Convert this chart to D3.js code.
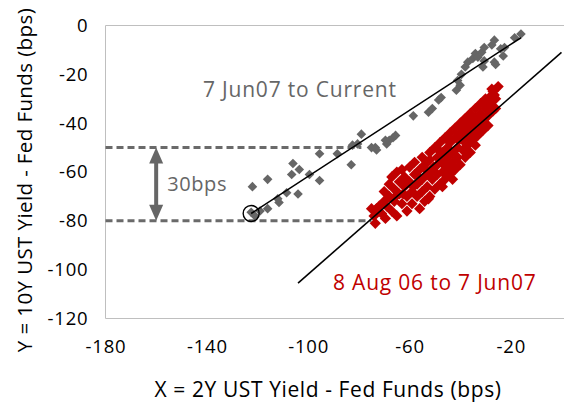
<!DOCTYPE html>
<html>
<head>
<meta charset="utf-8">
<script src="https://cdn.jsdelivr.net/npm/d3@7"></script>
<style>
  html, body { margin: 0; padding: 0; background: #fff; }
  svg { display: block; font-family: "Open Sans", "Noto Sans", sans-serif; }
</style>
</head>
<body>
<svg id="chart" width="564" height="403"></svg>
<script>
// Axis tick values
const xTicks = [-180, -140, -100, -60, -20];
const yTicks = [0, -20, -40, -60, -80, -100, -120];

// 7 Jun07 to Current: 2Y spread (x) vs 10Y spread (y), bps
const greyX = [-122.5, -121, -122, -119, -116, -116, -111.5, -112, -108.5, -106, -106.5, -103.5, -104, -99.5,
  -95.5, -95.5, -88.5, -83, -82.5, -80.5, -79, -75, -73, -73.5, -69, -68, -66.5, -65.5, -69.5,
  -58.5, -52.5, -51, -48.5, -47.5, -41.5, -41, -40, -39.5, -38, -37, -35, -34, -33, -31.5, -31,
  -30.5, -30.5, -27.5, -26.5, -26.5, -26, -24, -23, -22.5, -18.5, -16];
const greyY = [-76.5, -78, -66, -76, -63, -75, -72.5, -71, -68.5, -56.5, -61, -59, -69, -61,
  -52.5, -63.5, -52.5, -57, -49, -48.5, -44.5, -50, -51, -50, -48.5, -47, -46, -45, -47,
  -37, -35.5, -34, -30.5, -29.5, -26.5, -22.5, -24.5, -20, -17, -15, -13.5, -11.5, -13, -11, -17,
  -9, -14.5, -8, -6, -15, -16, -9.5, -12.5, -9, -5, -3.5];

// 8 Aug 06 to 7 Jun07
const redX = [-75, -74, -73.5, -73, -72, -71, -70, -70, -69, -68, -68, -67, -67, -66, -66, -65, -65, -64, -64,
  -63, -63, -62, -62, -61, -61, -60, -60, -59, -59, -58, -58, -57, -57, -56, -56, -55, -55, -55,
  -54, -54, -53, -53, -52, -52, -52, -51, -51, -50, -50, -49, -49, -49, -48, -48, -47, -47, -47,
  -46, -46, -45, -45, -45, -44, -44, -44, -43, -43, -42, -42, -42, -41, -41, -40, -40, -40,
  -39, -39, -38, -38, -38, -37, -37, -36, -36, -36, -35, -35, -34, -34, -34, -33, -33, -32, -32,
  -31, -31, -30, -30, -29, -29, -28, -28, -27, -27, -26, -26, -62.5, -58.5, -53.5, -48.5, -44.5,
  -40.5, -36.5, -33.5, -29.5, -69.5, -65.5, -57.5, -50.5, -46.5, -25, -27.5, -26.5, -43, -47, -52.5];
const redY = [-75, -78, -81, -75, -74, -77, -72, -68, -74, -70, -65, -76, -62, -72, -67, -60, -78, -64, -69,
  -73, -59, -66, -62, -76, -70, -58, -64, -68, -73, -56, -61, -65, -70, -59, -75, -54, -63, -68,
  -57, -72, -61, -66, -52, -55, -70, -59, -63, -50, -67, -54, -57, -61, -48, -65, -52, -56, -60,
  -46, -63, -50, -54, -58, -44, -48, -61, -52, -56, -42, -46, -59, -50, -54, -40, -44, -57,
  -47, -51, -38, -42, -54, -45, -49, -36, -40, -52, -43, -47, -34, -38, -49, -41, -45, -32, -36,
  -39, -43, -30, -34, -37, -41, -29, -32, -27, -35, -30, -34, -69, -66, -59, -51, -51,
  -47, -44, -39, -33, -79, -70, -61, -58, -57, -25, -26, -28.5, -63, -66, -71];

// Trend lines [x0, y0, x1, y1]
const greyTrend = [-122.5, -77, -16, -5];
const redTrend = [-104, -105.5, 0, -11];

// Reference levels and the bracketed spread
const levelHigh = -50, levelLow = -80, arrowX = -160;
const levelHighEnd = -79, levelLowEnd = -75;
const anchorPoint = [-122.5, -77];

const svg = d3.select("#chart");
const plotL = 105.5, plotR = 561.5, plotT = 25.5, plotB = 318.5;

const x = d3.scaleLinear().domain([-180, 0]).range([plotL, plotR]);
const y = d3.scaleLinear().domain([0, -120]).range([plotT, plotB]);

const GREY = "#666666", RED = "#c00000", FRAME = "#bfbfbf";

// Plot frame (left, top, bottom)
svg.append("path")
  .attr("d", `M564,${plotT}H${plotL}V${plotB}H564`)
  .attr("fill", "none").attr("stroke", FRAME).attr("stroke-width", 1);

// Axes (plain hyphen for negatives)
const fmt = d => String(d);
const xAxis = svg.append("g").attr("transform", `translate(0,${plotB})`)
  .call(d3.axisBottom(x).tickValues(xTicks).tickFormat(fmt).tickSize(0).tickPadding(21));
const yAxis = svg.append("g").attr("transform", `translate(${plotL},0)`)
  .call(d3.axisLeft(y).tickValues(yTicks).tickFormat(fmt).tickSize(0).tickPadding(17));
[xAxis, yAxis].forEach(g => {
  g.select(".domain").remove();
  g.selectAll("text").attr("font-size", 18.5).attr("fill", "#000")
    .attr("letter-spacing", 0.8)
    .attr("font-family", "'Open Sans', sans-serif");
});

// Axis titles
svg.append("text").attr("x", 328).attr("y", 397).attr("text-anchor", "middle")
  .attr("font-size", 21).attr("letter-spacing", 0.6).attr("fill", "#000")
  .text("X = 2Y UST Yield - Fed Funds (bps)");
svg.append("text").attr("transform", "translate(32,180) rotate(-90)").attr("text-anchor", "middle")
  .attr("font-size", 20.5).attr("letter-spacing", 0.4).attr("fill", "#000")
  .text("Y = 10Y UST Yield - Fed Funds (bps)");

// Dashed reference levels
const dash = svg.append("g").attr("stroke", "#6a6a6a").attr("stroke-width", 3)
  .attr("stroke-dasharray", "7,4").attr("fill", "none");
dash.append("line").attr("x1", x(-180)).attr("x2", x(levelHighEnd))
  .attr("y1", y(levelHigh)).attr("y2", y(levelHigh));
dash.append("line").attr("x1", x(-180)).attr("x2", x(levelLowEnd))
  .attr("y1", y(levelLow)).attr("y2", y(levelLow));

// Double-headed arrow spanning the spread
const ax = x(arrowX), ay0 = y(levelHigh), ay1 = y(levelLow);
svg.append("line").attr("x1", ax).attr("x2", ax).attr("y1", ay0 + 12).attr("y2", ay1 - 12)
  .attr("stroke", GREY).attr("stroke-width", 4);
svg.append("path").attr("d", `M${ax},${ay0}L${ax - 7},${ay0 + 16}L${ax + 7},${ay0 + 16}Z`).attr("fill", GREY);
svg.append("path").attr("d", `M${ax},${ay1}L${ax - 7},${ay1 - 16}L${ax + 7},${ay1 - 16}Z`).attr("fill", GREY);
svg.append("text").attr("x", x(arrowX) + 11).attr("y", (ay0 + ay1) / 2 + 7)
  .attr("font-size", 20).attr("letter-spacing", 0.6).attr("fill", GREY).text("30bps");

// Diamond markers
const diamond = (d, r) => `M${d[0]},${d[1] - r}L${d[0] + r},${d[1]}L${d[0]},${d[1] + r}L${d[0] - r},${d[1]}Z`;
const redPts = redX.map((v, i) => [x(v), y(redY[i])]);
const greyPts = greyX.map((v, i) => [x(v), y(greyY[i])]);

svg.append("g").selectAll("path").data(redPts).join("path")
  .attr("d", d => diamond(d, 5.6)).attr("fill", RED);
svg.append("g").selectAll("path").data(greyPts).join("path")
  .attr("d", d => diamond(d, 4.8)).attr("fill", GREY);

// Trend lines
[greyTrend, redTrend].forEach(t => {
  svg.append("line").attr("x1", x(t[0])).attr("y1", y(t[1]))
    .attr("x2", x(t[2])).attr("y2", y(t[3]))
    .attr("stroke", "#000").attr("stroke-width", 1.6);
});

// Circle on the start of the current period
svg.append("circle").attr("cx", x(anchorPoint[0])).attr("cy", y(anchorPoint[1])).attr("r", 8)
  .attr("fill", "none").attr("stroke", "#000").attr("stroke-width", 1.4);

// Period labels
svg.append("text").attr("x", 203).attr("y", 97).attr("font-size", 21).attr("letter-spacing", 0.8)
  .attr("fill", GREY).text("7 Jun07 to Current");
svg.append("text").attr("x", 333).attr("y", 290).attr("font-size", 21).attr("letter-spacing", 0.8)
  .attr("fill", RED).text("8 Aug 06 to 7 Jun07");
</script>
</body>
</html>
